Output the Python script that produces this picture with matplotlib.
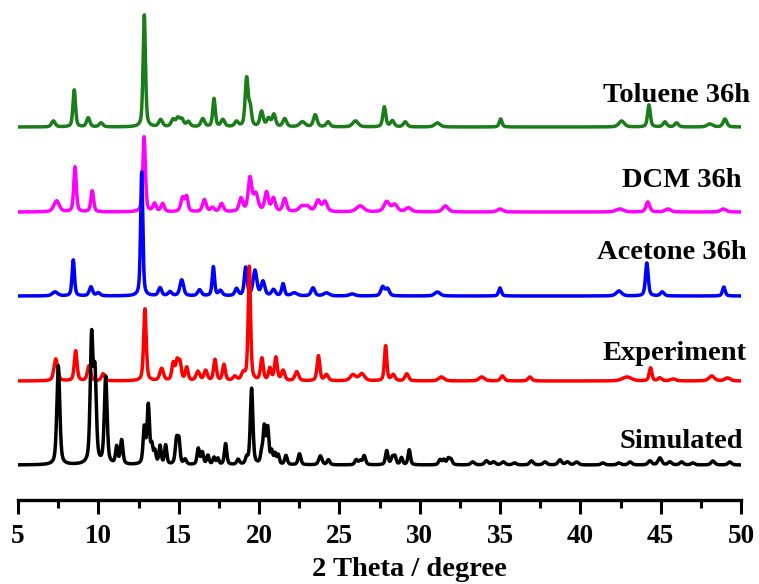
import numpy as np
import matplotlib
matplotlib.use("Agg")
import matplotlib.pyplot as plt

# ---------------------------------------------------------------
# PXRD patterns, stacked with vertical offsets.
# Each pattern is a list of reflections: position (2θ, deg),
# height (arb. units on the stacked scale) and FWHM (deg).
# ---------------------------------------------------------------
two_theta_range = (5, 50)

names = ["Simulated", "Experiment", "Acetone 36h", "DCM 36h", "Toluene 36h"]
colors = ["#000000", "#ff0000", "#0000ff", "#ff00ff", "#1a7d1a"]
offsets = [35, 119, 204, 288, 373]

sim_pos = [7.51, 9.58, 9.79, 10.46, 11.14, 11.45, 12.86, 13.11, 13.33, 13.52,
           13.84, 14.19, 14.87, 15.02, 15.4, 16.22, 16.47, 16.82, 17.2, 17.44,
           17.92, 18.7, 19.23, 19.54, 20.16, 20.33, 20.54, 20.79, 21.0, 21.2,
           21.68, 22.52, 23.82, 24.32, 26.05, 26.3, 26.55, 27.95, 28.3, 28.46,
           28.87, 29.35, 31.26, 31.5, 31.78, 31.95, 33.3, 34.16, 34.6, 35.2,
           35.9, 36.96, 37.8, 38.73, 39.2, 39.77, 41.4, 42.4, 43.1, 44.33,
           44.95, 45.57, 46.3, 47.0, 48.25, 49.3]
sim_hgt = [99, 124, 86, 87, 17, 24, 36, 58, 17, 12,
           18, 19, 25, 22, 5, 16, 12, 9, 7, 6,
           21, 5, 6, 76, 10, 36, 35, 12, 10, 9,
           9, 11, 9, 5, 5, 4, 9, 14, 7, 8,
           7, 15, 5, 5, 6, 5, 3, 4, 3, 3,
           2, 4, 3, 5, 3, 3, 2, 2, 3, 4,
           7, 3, 3, 2, 4, 3]
sim_wid = [0.16, 0.15, 0.15, 0.15, 0.12, 0.14, 0.13, 0.13, 0.12, 0.12,
           0.12, 0.12, 0.14, 0.12, 0.15, 0.13, 0.13, 0.13, 0.13, 0.12,
           0.13, 0.15, 0.13, 0.14, 0.12, 0.13, 0.13, 0.12, 0.12, 0.12,
           0.14, 0.15, 0.18, 0.15, 0.15, 0.15, 0.15, 0.14, 0.14, 0.14,
           0.13, 0.13, 0.15, 0.15, 0.15, 0.15, 0.2, 0.2, 0.2, 0.2,
           0.2, 0.2, 0.2, 0.2, 0.2, 0.2, 0.2, 0.2, 0.2, 0.2,
           0.2, 0.2, 0.2, 0.2, 0.2, 0.2]

exp_pos = [7.35, 8.59, 9.42, 10.3, 12.9, 13.94, 14.66, 14.9, 15.08, 15.5,
           16.2, 16.68, 17.26, 17.82, 18.5, 19.02, 19.4, 20.18, 20.68, 21.05,
           21.5, 22.35, 23.7, 24.2, 25.85, 26.4, 27.88, 28.35, 29.2, 31.35,
           33.86, 35.15, 36.86, 42.9, 44.37, 44.95, 45.77, 48.17, 49.16]
exp_hgt = [22, 30, 15, 7, 72, 12, 17, 18, 17, 13,
           9, 10, 21, 16, 4, 7, 114, 22, 12, 23,
           10, 9, 25, 6, 6, 7, 35, 6, 7, 4,
           4, 5, 4, 4, 13, 3, 2, 5, 3]
exp_wid = [0.2, 0.15, 0.18, 0.18, 0.14, 0.2, 0.15, 0.15, 0.15, 0.15,
           0.2, 0.18, 0.15, 0.15, 0.2, 0.2, 0.13, 0.15, 0.15, 0.15,
           0.18, 0.2, 0.15, 0.2, 0.3, 0.3, 0.13, 0.2, 0.2, 0.3,
           0.3, 0.2, 0.2, 0.5, 0.15, 0.2, 0.3, 0.3, 0.3]

ace_pos = [7.3, 8.44, 9.54, 10.0, 12.7, 13.84, 14.46, 15.19, 16.3, 17.16,
           17.6, 18.6, 19.17, 19.75, 20.25, 20.9, 21.5, 22.2, 23.36, 24.2,
           25.8, 27.7, 28.0, 31.1, 35.0, 42.4, 44.14, 45.1, 48.93]
ace_hgt = [4, 36, 9, 3, 124, 8, 4, 16, 6, 29,
           5, 7, 28, 25, 14, 6, 12, 3, 8, 3,
           2, 9, 7, 4, 8, 5, 33, 4, 9]
ace_wid = [0.3, 0.13, 0.18, 0.2, 0.12, 0.18, 0.2, 0.2, 0.2, 0.13,
           0.2, 0.18, 0.15, 0.2, 0.2, 0.2, 0.15, 0.3, 0.2, 0.3,
           0.3, 0.2, 0.2, 0.3, 0.15, 0.3, 0.15, 0.2, 0.15]

dcm_pos = [7.4, 8.55, 9.62, 12.85, 13.5, 14.0, 15.25, 15.5, 16.6, 17.1,
           17.67, 18.88, 19.44, 19.8, 20.47, 20.9, 21.6, 22.65, 23.0, 23.67,
           24.1, 26.3, 27.95, 28.45, 29.3, 31.6, 35.0, 42.45, 44.2, 45.45,
           48.9]
dcm_hgt = [11, 45, 21, 75, 8, 8, 14, 14, 12, 4,
           8, 13, 33, 17, 19, 13, 13, 5, 5, 11,
           10, 6, 10, 7, 4, 6, 3, 3, 10, 3,
           3]
dcm_wid = [0.3, 0.14, 0.15, 0.14, 0.18, 0.18, 0.2, 0.15, 0.2, 0.2,
           0.2, 0.2, 0.2, 0.25, 0.2, 0.2, 0.2, 0.3, 0.3, 0.25,
           0.25, 0.4, 0.3, 0.3, 0.3, 0.3, 0.3, 0.4, 0.2, 0.3,
           0.3]

tol_pos = [7.2, 8.5, 9.37, 10.17, 12.86, 13.88, 14.65, 14.95, 15.2, 15.6,
           16.5, 17.2, 17.75, 18.6, 19.23, 19.45, 20.16, 20.6, 20.93, 21.6,
           22.7, 23.5, 24.3, 26.0, 27.8, 28.3, 29.1, 31.1, 35.04, 42.57,
           44.27, 45.26, 45.99, 48.06, 49.0]
tol_hgt = [6, 37, 9, 4, 112, 7, 7, 8, 7, 5,
           8, 28, 7, 5, 48, 18, 15, 8, 12, 8,
           5, 12, 5, 6, 20, 6, 5, 4, 8, 6,
           22, 5, 4, 3, 8]
tol_wid = [0.2, 0.14, 0.18, 0.2, 0.13, 0.2, 0.2, 0.2, 0.2, 0.2,
           0.2, 0.14, 0.2, 0.2, 0.16, 0.15, 0.18, 0.2, 0.18, 0.2,
           0.3, 0.2, 0.2, 0.3, 0.16, 0.2, 0.2, 0.3, 0.15, 0.3,
           0.15, 0.2, 0.2, 0.3, 0.2]

peak_tables = [
    (sim_pos, sim_hgt, sim_wid),
    (exp_pos, exp_hgt, exp_wid),
    (ace_pos, ace_hgt, ace_wid),
    (dcm_pos, dcm_hgt, dcm_wid),
    (tol_pos, tol_hgt, tol_wid),
]

# label anchor (right edge x in 2θ, baseline y on the stacked scale)
label_x = [50.11, 50.36, 50.36, 50.05, 50.55]
label_y = [52, 140, 241, 313, 398]

# extra instrumental broadening applied to every reflection
BROADENING = 1.35


def pattern(x, pos, hgt, wid, eta=0.5):
    """Pseudo-Voigt profile sum."""
    y = np.zeros_like(x)
    for p, h, w in zip(pos, hgt, wid):
        hw = BROADENING * w / 2.0
        lor = 1.0 / (1.0 + ((x - p) / hw) ** 2)
        gau = np.exp(-np.log(2) * ((x - p) / hw) ** 2)
        y += h * (eta * lor + (1 - eta) * gau)
    return y


plt.rcParams["font.family"] = ["Liberation Serif", "DejaVu Serif"]
plt.rcParams["font.weight"] = "bold"

fig = plt.figure(figsize=(7.59, 5.84), dpi=100)
ax = fig.add_axes([18 / 759, 84 / 584, (741 - 18) / 759, 500 / 584])

x = np.linspace(two_theta_range[0], two_theta_range[1], 4501)
zorders = [5, 4, 3, 2, 1]
for (pos, hgt, wid), off, col, name, lx, ly, zo in zip(
        peak_tables, offsets, colors, names, label_x, label_y, zorders):
    y = off + pattern(x, pos, hgt, wid)
    ax.plot(x, y, color=col, lw=2.5, zorder=zo, solid_joinstyle="round")
    ax.text(lx, ly, name, ha="right", va="baseline", fontsize=20.5,
            fontweight="bold", color="black", clip_on=False)

ax.set_xlim(*two_theta_range)
ax.set_ylim(0, 500)
for s in ("left", "right", "top"):
    ax.spines[s].set_visible(False)
ax.spines["bottom"].set_linewidth(2.4)
ax.set_yticks([])
ax.set_xticks(np.arange(5, 51, 5))
ax.set_xticks(np.arange(7.5, 50, 5), minor=True)
ax.tick_params(axis="x", which="major", direction="out", length=10, width=2.2,
               labelsize=19.5, pad=7)
ax.tick_params(axis="x", which="minor", direction="out", length=6, width=2.2)
for lab in ax.get_xticklabels():
    lab.set_fontweight("bold")
ax.set_xlabel("2 Theta / degree", fontsize=20.5, fontweight="bold", labelpad=5)
ax.xaxis.set_label_coords(0.541, -0.114)
ax.patch.set_alpha(0)

fig.savefig("out.png", dpi=100)
